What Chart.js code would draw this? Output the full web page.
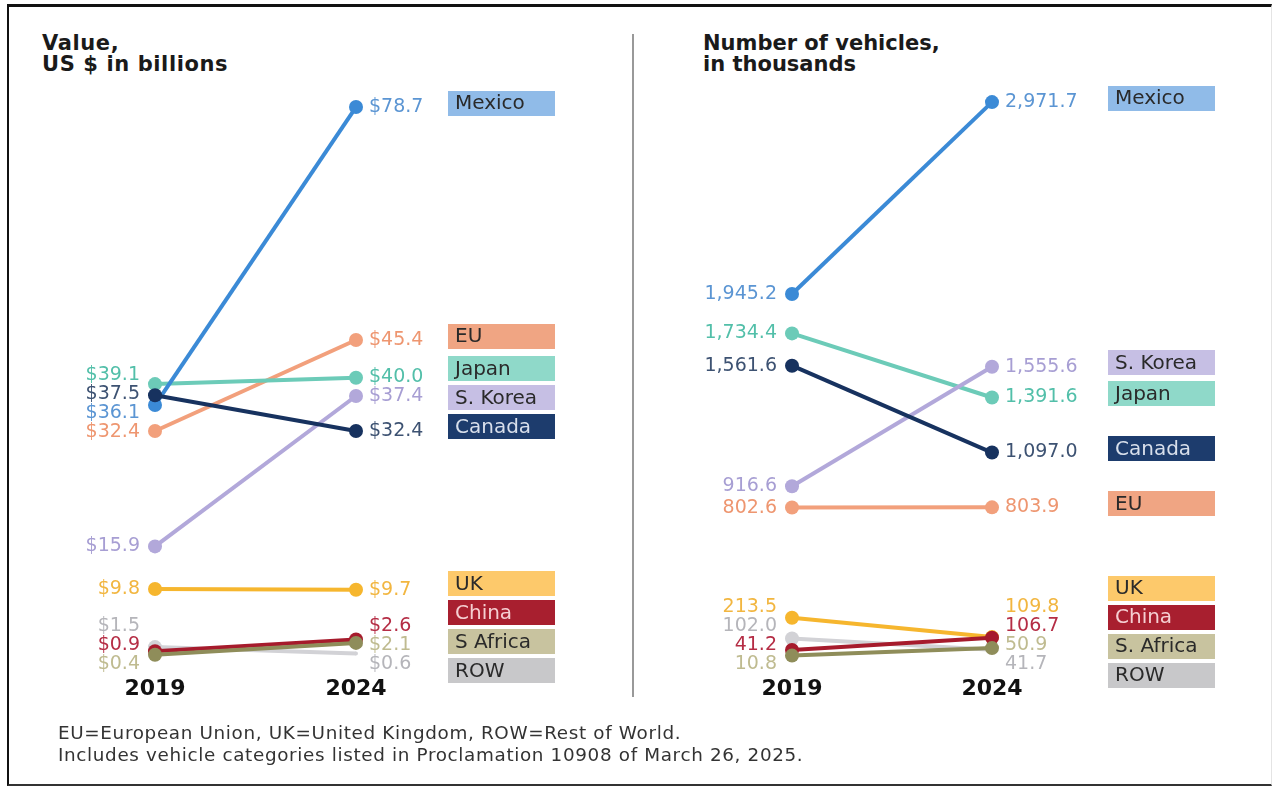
<!DOCTYPE html>
<html>
<head>
<meta charset="utf-8">
<script src="https://cdn.jsdelivr.net/npm/chart.js@4/dist/chart.umd.min.js"></script>
<style>
  body { margin: 0; background: #fff; }
  #page { position: relative; width: 1272px; height: 786px; overflow: hidden; font-family: "DejaVu Sans", sans-serif; }
  #frame { position: absolute; left: 7px; top: 4px; width: 1262px; height: 777px;
           border-top: 3px solid #111; border-left: 2px solid #111; border-bottom: 2px solid #333; border-right: 1px solid #e4e4e4; }
  #divider { position: absolute; left: 632px; top: 34px; width: 2px; height: 663px; background: #999; }
  .title { position: absolute; font-weight: bold; font-size: 21px; line-height: 21px; color: #1a1a1a; }
  #note { position: absolute; left: 58px; top: 722px; font-size: 17px; line-height: 22px; color: #333;
          letter-spacing: 0.6px; transform: scaleX(1.08); transform-origin: left top; white-space: nowrap; }
  canvas { position: absolute; top: 0; }
</style>
</head>
<body>
<div id="page">
  <div id="frame"></div>
  <div id="divider"></div>
  <div class="title" style="left:42px; top:33px; letter-spacing:0.6px;">Value,<br>US $ in billions</div>
  <div class="title" style="left:703px; top:33px;">Number of vehicles,<br>in thousands</div>
  <canvas id="valueChart" width="636" height="786" style="left:0"></canvas>
  <canvas id="vehicleChart" width="635" height="786" style="left:637px"></canvas>
  <div id="note">EU=European Union, UK=United Kingdom, ROW=Rest of World.<br>Includes vehicle categories listed in Proclamation 10908 of March 26, 2025.</div>
</div>
<script>
// data
const years = ["2019", "2024"];
const valueNames = ["Mexico", "EU", "Japan", "S. Korea", "Canada", "UK", "China", "S Africa", "ROW"];
const vehicleNames = ["Mexico", "EU", "Japan", "S. Korea", "Canada", "UK", "China", "S. Africa", "ROW"];
const value2019 = [36.1, 32.4, 39.1, 15.9, 37.5, 9.8, 0.9, 0.4, 1.5];
const value2024 = [78.7, 45.4, 40.0, 37.4, 32.4, 9.7, 2.6, 2.1, 0.6];
const vehicles2019 = [1945.2, 802.6, 1734.4, 916.6, 1561.6, 213.5, 41.2, 10.8, 102.0];
const vehicles2024 = [2971.7, 803.9, 1391.6, 1555.6, 1097.0, 109.8, 106.7, 50.9, 41.7];

// styles, same order as the names
const lineColors = ["#3b8ad6", "#f2a07c", "#6ccbb8", "#b2a8da", "#17325f", "#f6b62e", "#a61b2c", "#8f8d5a", "#d2d2d6"];
const textColors = ["#5b95d3", "#ee9670", "#52bfa9", "#a79ed3", "#3d5272", "#f2b640", "#b52d45", "#bfbb90", "#b5b5ba"];
const boxColors = ["#90bbe8", "#f0a583", "#8fd9c9", "#c6bfe4", "#1d3c6d", "#fdc96b", "#a81f2f", "#c8c39f", "#c8c8ca"];
const boxTextColors = ["#2a2a2a", "#2a2a2a", "#2a2a2a", "#2a2a2a", "#d8dfeb", "#2a2a2a", "#f5cfd2", "#2a2a2a", "#2a2a2a"];
// draw order: lower number ends up on top
const drawOrder = [1, 4, 3, 2, 0, 7, 6, 5, 8];

// push overlapping labels apart, keeping each group centred on its points
function spread(items, gap, maxY) {
  const sorted = items.slice().sort((a, b) => a.y - b.y);
  let groups = sorted.map(it => ({ items: [it], center: it.y }));
  const half = g => (g.items.length - 1) * gap / 2;
  for (let guard = 0; guard < 200; guard++) {
    let changed = false;
    for (let i = 0; i < groups.length - 1; i++) {
      const a = groups[i], b = groups[i + 1];
      if ((b.center - half(b)) - (a.center + half(a)) < gap) {
        const n = a.items.length + b.items.length;
        const center = (a.center * a.items.length + b.center * b.items.length) / n;
        groups.splice(i, 2, { items: a.items.concat(b.items), center });
        changed = true;
        break;
      }
    }
    const last = groups[groups.length - 1];
    const over = last.center + half(last) - maxY;
    if (over > 0.01) { last.center -= over; changed = true; }
    if (!changed) break;
  }
  groups.forEach(g => g.items.forEach((it, k) => { it.ly = g.center - half(g) + k * gap; }));
}

const slopeLabels = {
  id: "slopeLabels",
  afterDatasetsDraw(chart, args, opts) {
    const ctx = chart.ctx;
    const sets = chart.data.datasets;
    ctx.save();
    ctx.textBaseline = "middle";
    [0, 1].forEach(yi => {
      const items = sets.map((ds, i) => {
        const pt = chart.getDatasetMeta(i).data[yi];
        return { i, x: pt.x, y: pt.y, v: ds.data[yi] };
      });
      spread(items, 19, 664);
      ctx.font = "19px 'DejaVu Sans'";
      items.forEach(it => {
        ctx.fillStyle = textColors[it.i];
        ctx.textAlign = yi === 0 ? "right" : "left";
        ctx.fillText(opts.format(it.v), yi === 0 ? it.x - 15 : it.x + 13, it.ly);
      });
      if (yi === 1) {
        const boxes = items.map(it => ({ i: it.i, y: it.y - 4 }));
        spread(boxes, 29, 675);
        ctx.font = "20px 'DejaVu Sans'";
        boxes.forEach(b => {
          ctx.fillStyle = boxColors[b.i];
          ctx.fillRect(opts.boxX, Math.round(b.ly - 12.5), 107, 25);
          ctx.fillStyle = boxTextColors[b.i];
          ctx.textAlign = "left";
          ctx.fillText(opts.names[b.i], opts.boxX + 7, b.ly + 1);
        });
      }
    });
    ctx.restore();
  }
};

function makeChart(id, names, a, b, yMax, format, boxX) {
  const datasets = names.map((name, i) => ({
    label: name,
    data: [a[i], b[i]],
    borderColor: lineColors[i],
    backgroundColor: lineColors[i],
    pointBackgroundColor: lineColors[i],
    borderWidth: 4,
    pointRadius: name === "ROW" ? [7, 2] : 7,
    pointBorderWidth: 0,
    tension: 0,
    clip: false,
    order: drawOrder[i]
  }));
  return new Chart(document.getElementById(id), {
    type: "line",
    data: { labels: years, datasets },
    plugins: [slopeLabels],
    options: {
      responsive: false,
      animation: false,
      layout: { padding: { left: 155, right: 280, top: 80, bottom: 66 } },
      plugins: {
        legend: { display: false },
        tooltip: { enabled: false },
        slopeLabels: { format, boxX, names }
      },
      scales: {
        x: {
          offset: false,
          grid: { display: false, drawTicks: false },
          border: { display: false },
          ticks: {
            padding: 18,
            maxRotation: 0,
            autoSkip: false,
            color: "#111",
            font: { family: "DejaVu Sans", size: 22, weight: "bold" }
          }
        },
        y: { display: false, min: 0, max: yMax }
      }
    }
  });
}

makeChart("valueChart", valueNames, value2019, value2024, 82.57,
  v => "$" + v.toFixed(1), 448);
makeChart("vehicleChart", vehicleNames, vehicles2019, vehicles2024, 3090,
  v => v.toLocaleString("en-US", { minimumFractionDigits: 1, maximumFractionDigits: 1 }), 471);
</script>
</body>
</html>
